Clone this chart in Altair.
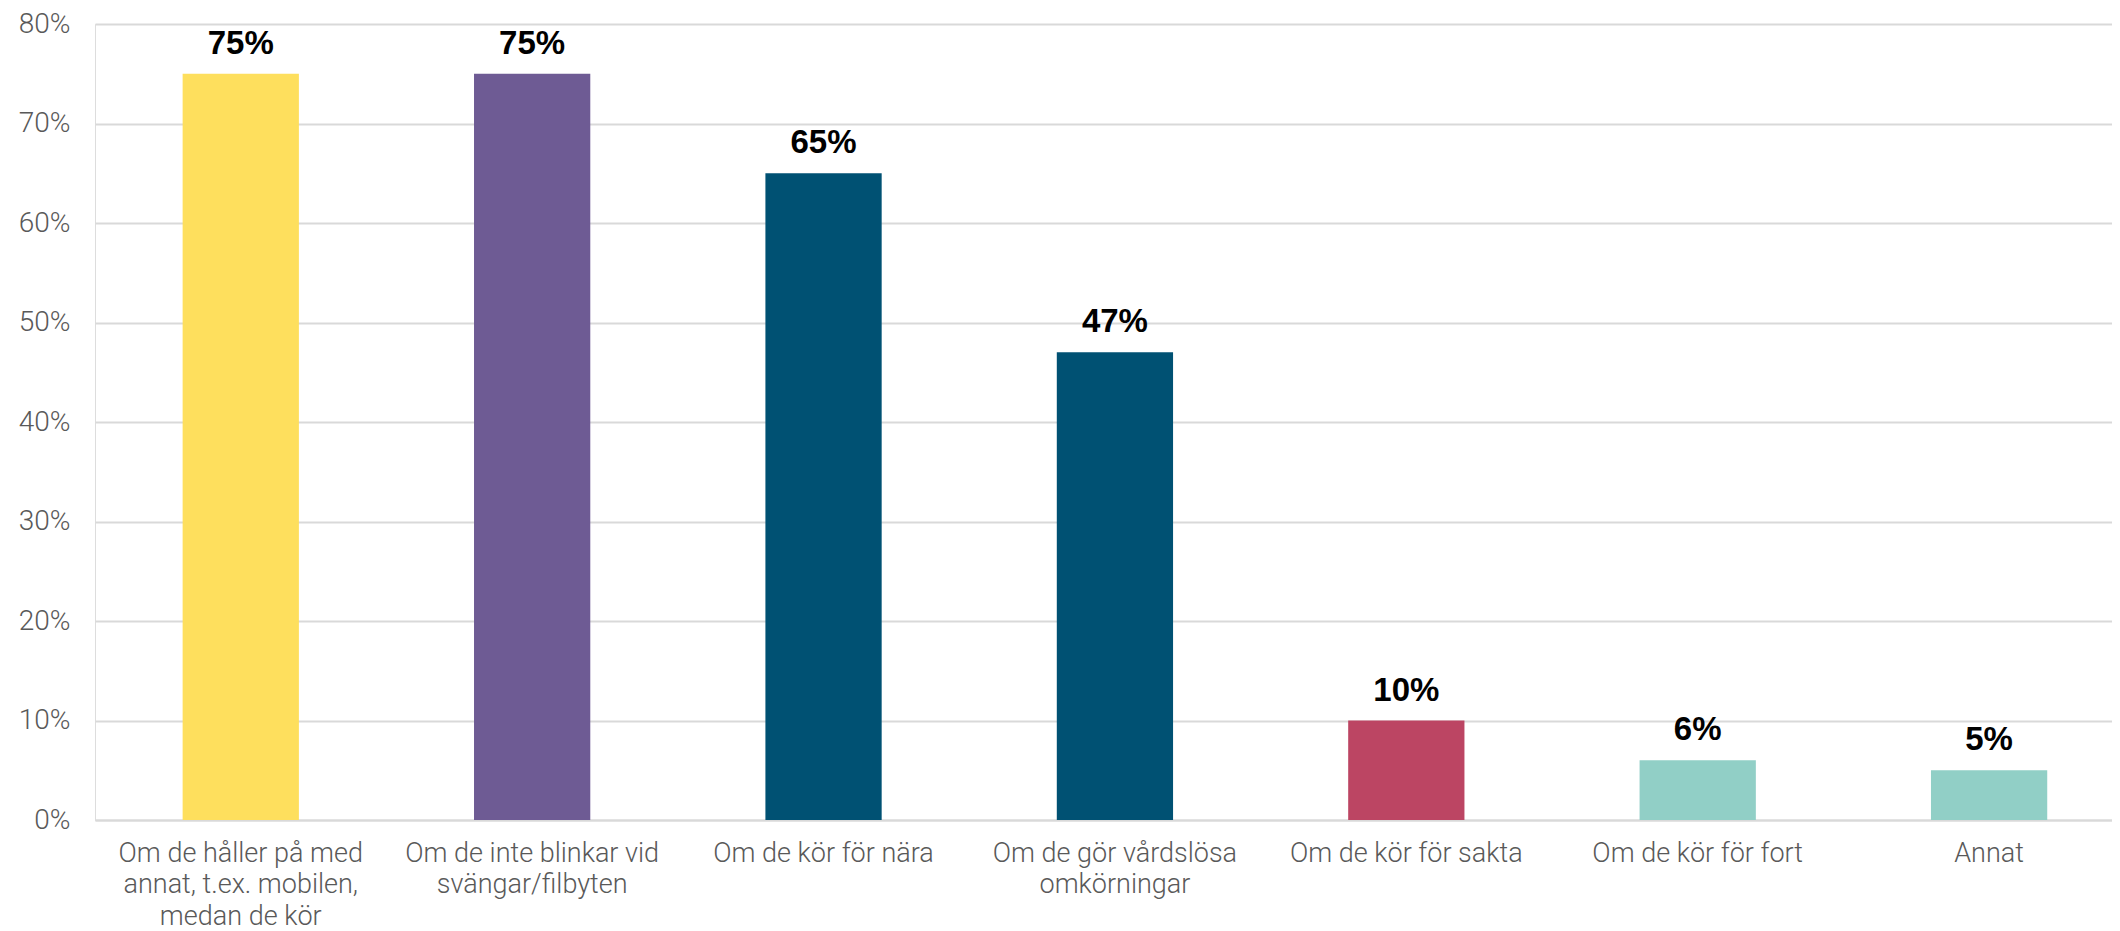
import altair as alt
import pandas as pd

categories = [
    "Om de håller på med|annat, t.ex. mobilen,|medan de kör",
    "Om de inte blinkar vid|svängar/filbyten",
    "Om de kör för nära",
    "Om de gör vårdslösa|omkörningar",
    "Om de kör för sakta",
    "Om de kör för fort",
    "Annat",
]
values = [0.75, 0.75, 0.65, 0.47, 0.10, 0.06, 0.05]
colors = ["#FEDF5D", "#6E5B94", "#005173", "#005173", "#BC4563", "#91CFC6", "#91CFC6"]
y_ticks = [0, 0.1, 0.2, 0.3, 0.4, 0.5, 0.6, 0.7, 0.8]

df = pd.DataFrame({"cat": categories, "value": values, "color": colors})

x_enc = alt.X(
    "cat:N",
    sort=categories,
    scale=alt.Scale(paddingInner=0.601, paddingOuter=0.2615, align=0.575),
    axis=alt.Axis(
        title=None,
        labelAngle=0,
        labelExpr="split(datum.label, '|')",
        labelFont="Roboto",
        labelFontWeight=300,
        labelFontSize=27,
        labelColor="#595959",
        labelLineHeight=31.5,
        labelPadding=20,
        ticks=False,
        domain=True,
        domainColor="#D9D9D9",
        domainWidth=2,
        grid=False,
        labelLimit=400,
    ),
)

y_enc = alt.Y(
    "value:Q",
    scale=alt.Scale(domain=[0, 0.8], nice=False),
    axis=alt.Axis(
        title=None,
        values=y_ticks,
        format=".0%",
        labelFont="Roboto",
        labelFontWeight=300,
        labelFontSize=28,
        labelColor="#595959",
        labelPadding=25,
        ticks=False,
        domain=False,
        grid=True,
        gridColor="#D9D9D9",
        gridWidth=2,
        minExtent=87,
        maxExtent=87,
    ),
)

bars = alt.Chart(df).mark_bar().encode(
    x=x_enc,
    y=y_enc,
    color=alt.Color("color:N", scale=None),
)

labels = alt.Chart(df).mark_text(
    font="Liberation Sans",
    fontWeight="bold",
    fontSize=33,
    color="#000000",
    baseline="alphabetic",
    dy=-20,
).encode(
    x=alt.X("cat:N", sort=categories),
    y=alt.Y("value:Q"),
    text=alt.Text("value:Q", format=".0%"),
)

chart = (
    alt.layer(bars, labels)
    .properties(
        width=2017,
        height=796,
        padding={"left": 0, "top": 2, "right": 0, "bottom": 0},
    )
    .configure_view(stroke=None)
    .configure(background="#FFFFFF")
)

chart.save("out.html", embed_options={"renderer": "svg", "actions": False})
